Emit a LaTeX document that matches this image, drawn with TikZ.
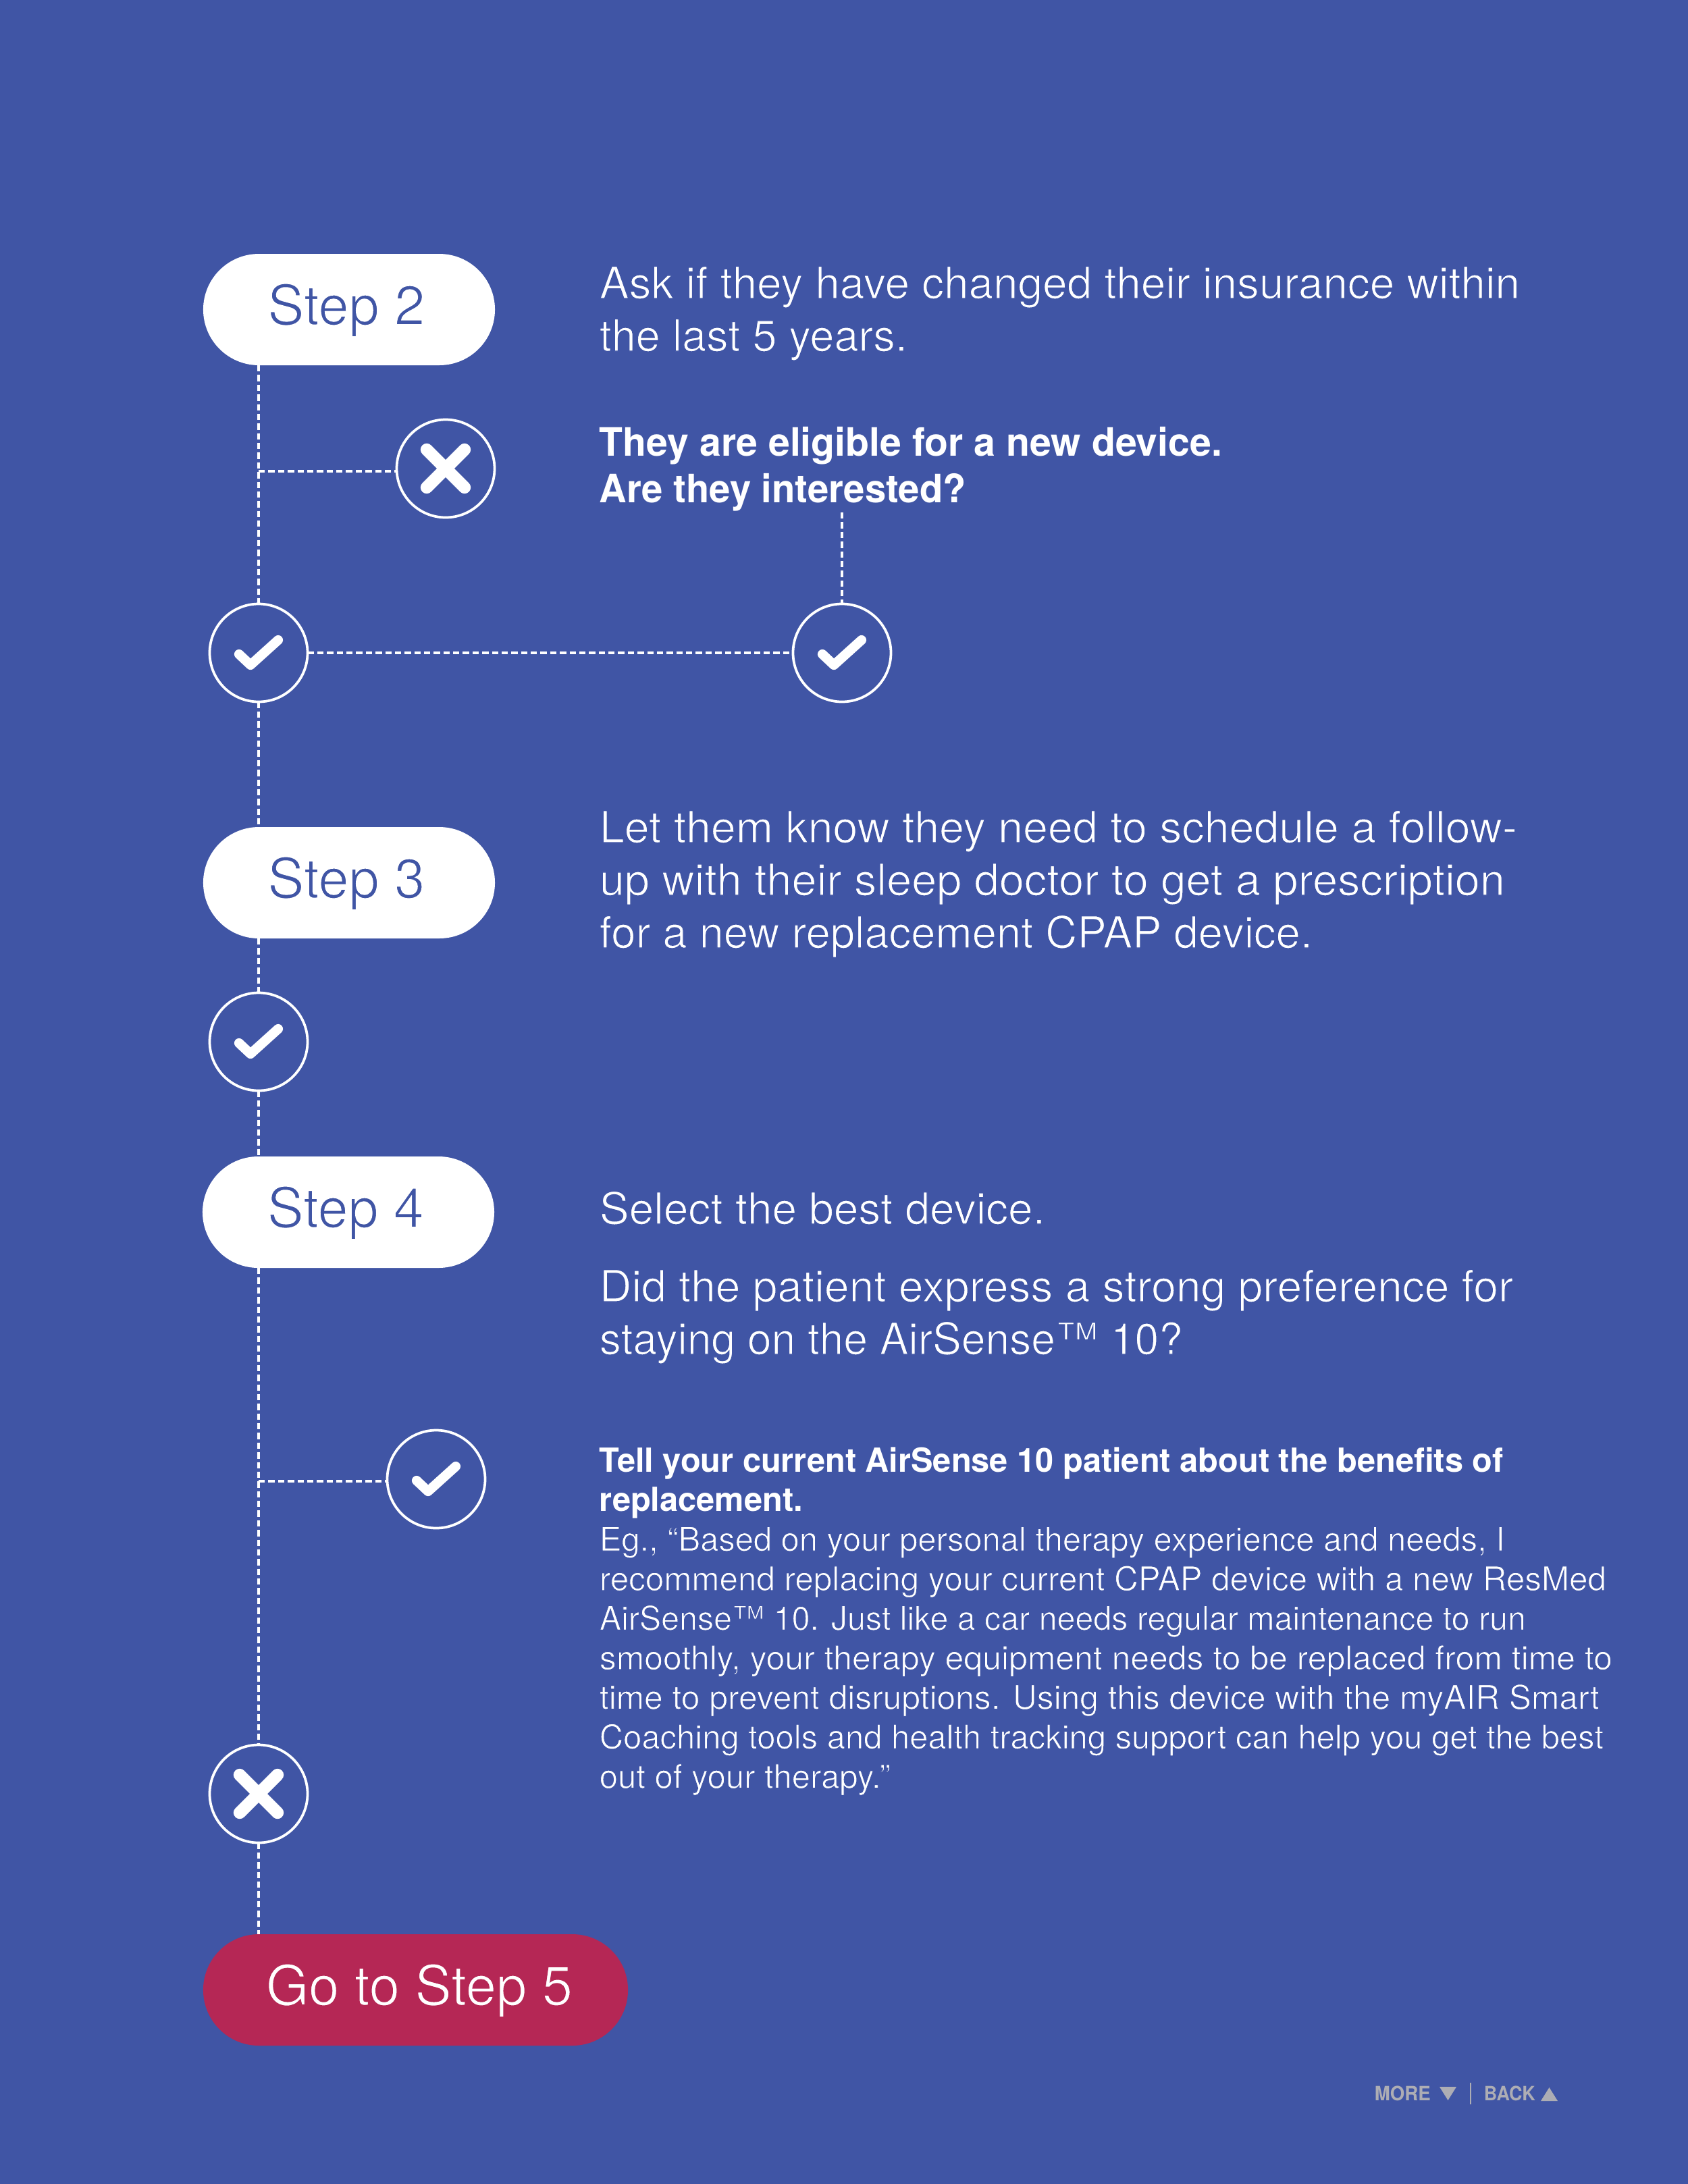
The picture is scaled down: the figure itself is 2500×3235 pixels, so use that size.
\documentclass[tikz,border=0pt]{standalone}
\usepackage{fontspec}
\usepackage{graphicx}
\setmainfont{TeX Gyre Heros}
\usetikzlibrary{shapes.misc,calc}
\definecolor{bgblue}{RGB}{64,85,165}
\definecolor{goRed}{RGB}{181,39,85}
\definecolor{footGrey}{RGB}{173,173,180}
\newcommand{\pxl}{0.24pt}
% glyph outline in a given colour, which thins the regular weight to a light one
\newcommand{\thinset}[2]{\special{pdf:code 2 Tr #1 w #2 RG}}
\newcommand{\thinoff}{\special{pdf:code 0 Tr}}
\newcommand{\thinbig}{\thinset{0.30}{0.251 0.333 0.647}}
\newcommand{\thinsmall}{\thinset{0.22}{0.251 0.333 0.647}}
\newcommand{\thinstep}{\thinset{0.40}{1 1 1}}
\newcommand{\thingo}{\thinset{0.38}{0.71 0.153 0.333}}
% one line of text, set to a target width given in reference pixels
\newcommand{\fitw}[2]{\resizebox{#1\dimexpr\pxl\relax}{\height}{#2}}
\newcommand{\pb}[2]{\hbox{\fitw{#1}{\bfseries #2}}}
\newcommand{\pl}[3][\thinbig]{\hbox{\fitw{#2}{#1#3\thinoff}}}
\tikzset{
  x=0.24pt, y=-0.24pt,
  pill/.style={rounded rectangle, fill=white, text=bgblue, minimum width=103.7pt, minimum height=39.6pt, inner sep=0pt, outer sep=0pt,
     text height=14.4pt, text depth=3.6pt, font=\fontsize{19.7}{23}\selectfont},
  gopill/.style={pill, fill=goRed, text=white, minimum width=151pt},
  ring/.style={circle, draw=white, line width=0.9pt, minimum size=34.8pt, inner sep=0pt, outer sep=0pt},
  link/.style={draw=white, line width=1.15pt, dash pattern=on 2.25pt off 1.2pt},
  glyphmark/.style={draw=white, line cap=round, line join=round},
  bigtext/.style={anchor=base west, inner sep=0pt, text=white, font=\fontsize{15.6}{18.72}\selectfont},
  headtext/.style={anchor=base west, inner sep=0pt, text=white, font=\fontsize{13.9}{16.6}\selectfont},
  smalltext/.style={anchor=base west, inner sep=0pt, text=white, font=\fontsize{11.8}{14.06}\selectfont},
  foottext/.style={anchor=base west, inner sep=0pt, text=footGrey, font=\fontsize{7}{8}\selectfont\bfseries},
}
\newcommand{\chk}[1]{\draw[glyphmark, line width=3.4pt] ($(#1.center)+(-29,2)$) -- ($(#1.center)+(-12,18)$) -- ($(#1.center)+(29,-19)$);}
\newcommand{\crs}[1]{\draw[glyphmark, line width=4.4pt] ($(#1.center)+(-28,-28)$) -- ($(#1.center)+(28,28)$) ($(#1.center)+(-28,28)$) -- ($(#1.center)+(28,-28)$);}
\begin{document}
\begin{tikzpicture}
\useasboundingbox (0,0) rectangle (2500,3235);
\fill[bgblue] (0,0) rectangle (2500,3235);

% pills
\node[pill] (s2) at (517,458.5) {\kern-2pt\fitw{233}{\thinstep Step 2\thinoff}};
\node[pill] (s3) at (517,1307.5) {\kern-2pt\fitw{233}{\thinstep Step 3\thinoff}};
\node[pill] (s4) at (516,1795.5) {\kern-2pt\fitw{232}{\thinstep Step 4\thinoff}};
\node[gopill] (go) at (615.5,2947.5) {\kern2.6pt\fitw{454}{\thingo Go to Step 5\thinoff}};

% rings
\node[ring] (x1) at (660,694) {};
\node[ring] (c1) at (383,967) {};
\node[ring] (c2) at (1247,967) {};
\node[ring] (c3) at (383,1543) {};
\node[ring] (c4) at (646,2191) {};
\node[ring] (x2) at (383,2657) {};
\chk{c1}\chk{c2}\chk{c3}\chk{c4}
\crs{x1}\crs{x2}

% connectors
\coordinate (j1) at (383,698);
\coordinate (j2) at (383,2194);
\coordinate (t1) at (1247,759);
\draw[link] (c1.north |- s2.south) -- (c1.north);
\draw[link] (j1) -- (j1 -| x1.west);
\draw[link] (t1) -- (c2.north);
\draw[link] (c1.east) -- (c2.west);
\draw[link] (c1.south) -- (c1.south |- s3.north);
\draw[link] (c3.north |- s3.south) -- (c3.north);
\draw[link] (c3.south) -- (c3.south |- s4.north);
\draw[link] (x2.north |- s4.south) -- (x2.north);
\draw[link] (j2) -- (j2 -| c4.west);
\draw[link] (x2.south) -- (x2.south |- go.north);

% text
\node[bigtext] (t2) at (887,442) {\vtop{\pl{1363}{Ask if they have changed their insurance within}\pl{456}{the last 5 years.}}};
\node[headtext] (q2) at (887,675) {\vtop{\pb{922}{They are eligible for a new device.}\pb{543}{Are they interested?}}};
\node[bigtext] (t3) at (887,1248) {\vtop{\pl{1359}{Let them know they need to schedule a follow-}\pl{1341}{up with their sleep doctor to get a prescription}\pl{1056}{for a new replacement CPAP device.}}};
\node[bigtext] (t4a) at (887,1813) {\pl{660}{Select the best device.}};
\node[bigtext] (t4b) at (887,1928) {\vtop{\pl{1353}{Did the patient express a strong preference for}\pl{864}{staying on the AirSense™ 10?}}};
\node[smalltext] (t4c) at (887,2180) {\vtop{%
\pb{1339}{Tell your current AirSense 10 patient about the benefits of}%
\pb{301}{replacement.}%
\pl[\thinsmall]{1341}{Eg., “Based on your personal therapy experience and needs, I}%
\pl[\thinsmall]{1491}{recommend replacing your current CPAP device with a new ResMed}%
\pl[\thinsmall]{1372}{AirSense™ 10. Just like a car needs regular maintenance to run}%
\pl[\thinsmall]{1500}{smoothly, your therapy equipment needs to be replaced from time to}%
\pl[\thinsmall]{1481}{time to prevent disruptions. Using this device with the myAIR Smart}%
\pl[\thinsmall]{1487}{Coaching tools and health tracking support can help you get the best}%
\pl[\thinsmall]{431}{out of your therapy.”}}};

% footer
\node[foottext] (more) at (2035,3111) {\fitw{83}{MORE}};
\node[foottext] (back) at (2197,3111) {\fitw{76}{BACK}};
\fill[footGrey] (2132,3091) -- (2157,3091) -- (2144.5,3111) -- cycle;
\fill[footGrey] (2282,3112) -- (2307,3112) -- (2294.5,3092) -- cycle;
\draw[footGrey, line width=0.5pt] (2178,3085) -- (2178,3117);
\end{tikzpicture}
\end{document}
